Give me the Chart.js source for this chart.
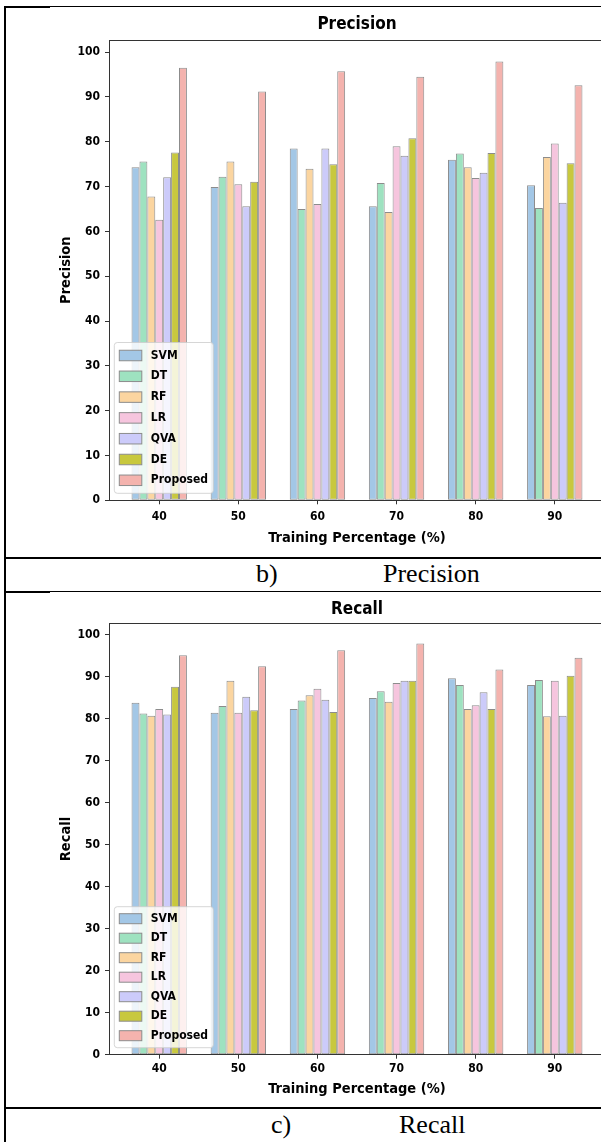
<!DOCTYPE html>
<html>
<head>
<meta charset="utf-8">
<script src="https://cdn.jsdelivr.net/npm/chart.js@4.4.1/dist/chart.umd.min.js"></script>
<style>
  body { margin: 0; background: #fff; }
  #page { position: relative; width: 601px; height: 1142px; overflow: hidden; background: #fff; }
  .rule { position: absolute; background: #000; }
  .cap { position: absolute; font-family: "Liberation Serif", "Times New Roman", serif; font-size: 26px; line-height: 26px; color: #000; white-space: nowrap; }
  .plot { position: absolute; left: 0; }
</style>
</head>
<body>
<div id="page">
  <div class="rule" style="left:4px;top:6px;width:2px;height:1136px"></div>
  <div class="rule" style="left:4px;top:6px;width:700px;height:1px"></div>
  <div class="rule" style="left:4px;top:6px;width:46px;height:2px"></div>
  <div class="rule" style="left:4px;top:557px;width:700px;height:2px"></div>
  <div class="rule" style="left:4px;top:591px;width:700px;height:1px"></div>
  <div class="rule" style="left:4px;top:591px;width:46px;height:2px"></div>
  <div class="rule" style="left:4px;top:1107px;width:700px;height:2px"></div>

  <canvas id="precisionChart" class="plot" style="top:8px" width="660" height="549"></canvas>
  <canvas id="recallChart" class="plot" style="top:593px" width="660" height="514"></canvas>

  <div class="cap" style="left:256px;top:561px">b)</div>
  <div class="cap" style="left:383px;top:561px">Precision</div>
  <div class="cap" style="left:271px;top:1112px">c)</div>
  <div class="cap" style="left:399px;top:1112px">Recall</div>
</div>

<script>
// training percentages (x categories) and y tick labels
const categories = [40, 50, 60, 70, 80, 90];
const yTicks = [0, 10, 20, 30, 40, 50, 60, 70, 80, 90, 100];

const seriesNames = ['SVM', 'DT', 'RF', 'LR', 'QVA', 'DE', 'Proposed'];
const seriesColors = ['#a3c7e6', '#9ee2c0', '#fbd5a0', '#f6c5de', '#cccbfa', '#c8c83e', '#f4b3ae'];

// precision values
const svmPrecision = [74.3, 69.9, 78.5, 65.6, 76.0, 70.3];
const dtPrecision = [75.6, 72.2, 65.0, 70.8, 77.4, 65.2];
const rfPrecision = [67.8, 75.6, 74.0, 64.3, 74.3, 76.6];
const lrPrecision = [62.6, 70.5, 66.1, 79.0, 71.9, 79.6];
const qvaPrecision = [72.1, 65.6, 78.5, 76.9, 73.1, 66.4];
const dePrecision = [77.6, 71.1, 75.0, 80.8, 77.5, 75.2];
const proposedPrecision = [96.5, 91.2, 95.7, 94.5, 97.9, 92.6];

// recall values
const svmRecall = [83.8, 81.4, 82.3, 84.9, 89.6, 88.0];
const dtRecall = [81.2, 83.0, 84.3, 86.5, 88.0, 89.2];
const rfRecall = [80.7, 89.0, 85.6, 84.0, 82.3, 80.6];
const lrRecall = [82.3, 81.4, 87.1, 88.5, 83.2, 89.0];
const qvaRecall = [81.0, 85.2, 84.5, 89.0, 86.3, 80.7];
const deRecall = [87.6, 82.0, 81.6, 89.0, 82.3, 90.2];
const proposedRecall = [95.1, 92.5, 96.3, 97.9, 91.7, 94.5];

const FONT = '"DejaVu Sans Condensed", "DejaVu Sans", sans-serif';
Chart.defaults.font.family = FONT;
Chart.defaults.font.weight = 'bold';
Chart.defaults.color = '#000';

// top/right spines like matplotlib
const framePlugin = {
  id: 'frame',
  afterDatasetsDraw(chart) {
    const { ctx, chartArea: a } = chart;
    ctx.save();
    ctx.strokeStyle = '#333';
    ctx.lineWidth = 1;
    ctx.strokeRect(Math.round(a.left) + 0.5, Math.round(a.top) + 0.5,
      Math.round(a.right - a.left), Math.round(a.bottom - a.top));
    ctx.restore();
  }
};

function roundedRect(ctx, x, y, w, h, r) {
  ctx.beginPath();
  ctx.moveTo(x + r, y);
  ctx.arcTo(x + w, y, x + w, y + h, r);
  ctx.arcTo(x + w, y + h, x, y + h, r);
  ctx.arcTo(x, y + h, x, y, r);
  ctx.arcTo(x, y, x + w, y, r);
  ctx.closePath();
}

// legend drawn inside the plot, lower left, over the bars
const boxLegend = {
  id: 'boxLegend',
  afterDatasetsDraw(chart, args, opts) {
    const { ctx, chartArea: a } = chart;
    const sets = chart.data.datasets;
    const h = opts.rowGap * (sets.length - 1) + opts.firstRow * 2;
    const x = a.left + 5.3;
    const y = a.bottom - 7 - h;
    ctx.save();
    roundedRect(ctx, x, y, 99, h, 3);
    ctx.fillStyle = 'rgba(255,255,255,0.8)';
    ctx.fill();
    ctx.strokeStyle = 'rgba(204,204,204,0.8)';
    ctx.lineWidth = 1;
    ctx.stroke();
    ctx.font = 'bold 12px ' + FONT;
    ctx.textBaseline = 'middle';
    sets.forEach((ds, i) => {
      const cy = y + opts.firstRow + i * opts.rowGap;
      ctx.fillStyle = ds.backgroundColor;
      ctx.fillRect(x + 5, cy - opts.swatch / 2, 22.5, opts.swatch);
      ctx.strokeStyle = ds.borderColor;
      ctx.strokeRect(x + 5, cy - opts.swatch / 2, 22.5, opts.swatch);
      ctx.fillStyle = '#000';
      ctx.fillText(ds.label, x + 36.5, cy);
    });
    ctx.restore();
  }
};

function makeDatasets(values) {
  return seriesNames.map((name, k) => ({
    label: name,
    data: categories.map((c, i) => ({ x: c, y: values[k][i] })),
    backgroundColor: seriesColors[k],
    borderColor: '#8c8c8c',
    borderWidth: 1,
    borderSkipped: false,
    categoryPercentage: 0.7,
    barPercentage: 1
  }));
}

function makeChart(id, title, yLabel, values, lay) {
  const ctx = document.getElementById(id).getContext('2d');
  return new Chart(ctx, {
    type: 'bar',
    data: { datasets: makeDatasets(values) },
    options: {
      responsive: false,
      animation: false,
      layout: { padding: { left: 50, right: 55, top: 0, bottom: 0 } },
      scales: {
        x: {
          type: 'linear',
          offset: false,
          min: 33.65,
          max: 96.35,
          afterBuildTicks: s => { s.ticks = categories.map(v => ({ value: v })); },
          afterFit: s => { s.height = lay.xHeight; },
          ticks: { autoSkip: false, maxRotation: 0, padding: lay.xTickPad, font: { size: 12, weight: 'bold' }, color: '#000' },
          grid: { offset: false, drawOnChartArea: false, drawTicks: true, tickLength: 4, color: '#333' },
          border: { display: false },
          title: { display: true, text: 'Training Percentage (%)', font: { size: 14.5, weight: 'bold' }, color: '#000', padding: { top: 0, bottom: lay.xTitlePad } }
        },
        y: {
          min: 0,
          max: 102.7,
          afterBuildTicks: s => { s.ticks = yTicks.map(v => ({ value: v })); },
          afterFit: s => { s.width = 59; },
          ticks: { padding: 5, font: { size: 12, weight: 'bold' }, color: '#000' },
          grid: { drawOnChartArea: false, drawTicks: true, tickLength: 4, color: '#333' },
          border: { display: false },
          title: { display: true, text: yLabel, font: { size: 14.5, weight: 'bold' }, color: '#000', padding: { top: 7.3, bottom: 0 } }
        }
      },
      plugins: {
        legend: { display: false },
        tooltip: { enabled: false },
        title: {
          display: true,
          text: title,
          fullSize: false,
          color: '#000',
          font: { size: 17, weight: 'bold' },
          padding: { top: lay.titleTop, bottom: lay.titleBottom }
        },
        boxLegend: lay.legend
      }
    },
    plugins: [framePlugin, boxLegend]
  });
}

makeChart('precisionChart', 'Precision', 'Precision',
  [svmPrecision, dtPrecision, rfPrecision, lrPrecision, qvaPrecision, dePrecision, proposedPrecision],
  { titleTop: 6.8, titleBottom: 4.8, xHeight: 56.7, xTickPad: 5.5, xTitlePad: 10.3,
    legend: { firstRow: 13, rowGap: 20.8, swatch: 10.5 } });

makeChart('recallChart', 'Recall', 'Recall',
  [svmRecall, dtRecall, rfRecall, lrRecall, qvaRecall, deRecall, proposedRecall],
  { titleTop: 6.0, titleBottom: 3.9, xHeight: 52.3, xTickPad: 3.4, xTitlePad: 9.0,
    legend: { firstRow: 12, rowGap: 19.5, swatch: 10 } });
</script>
</body>
</html>
